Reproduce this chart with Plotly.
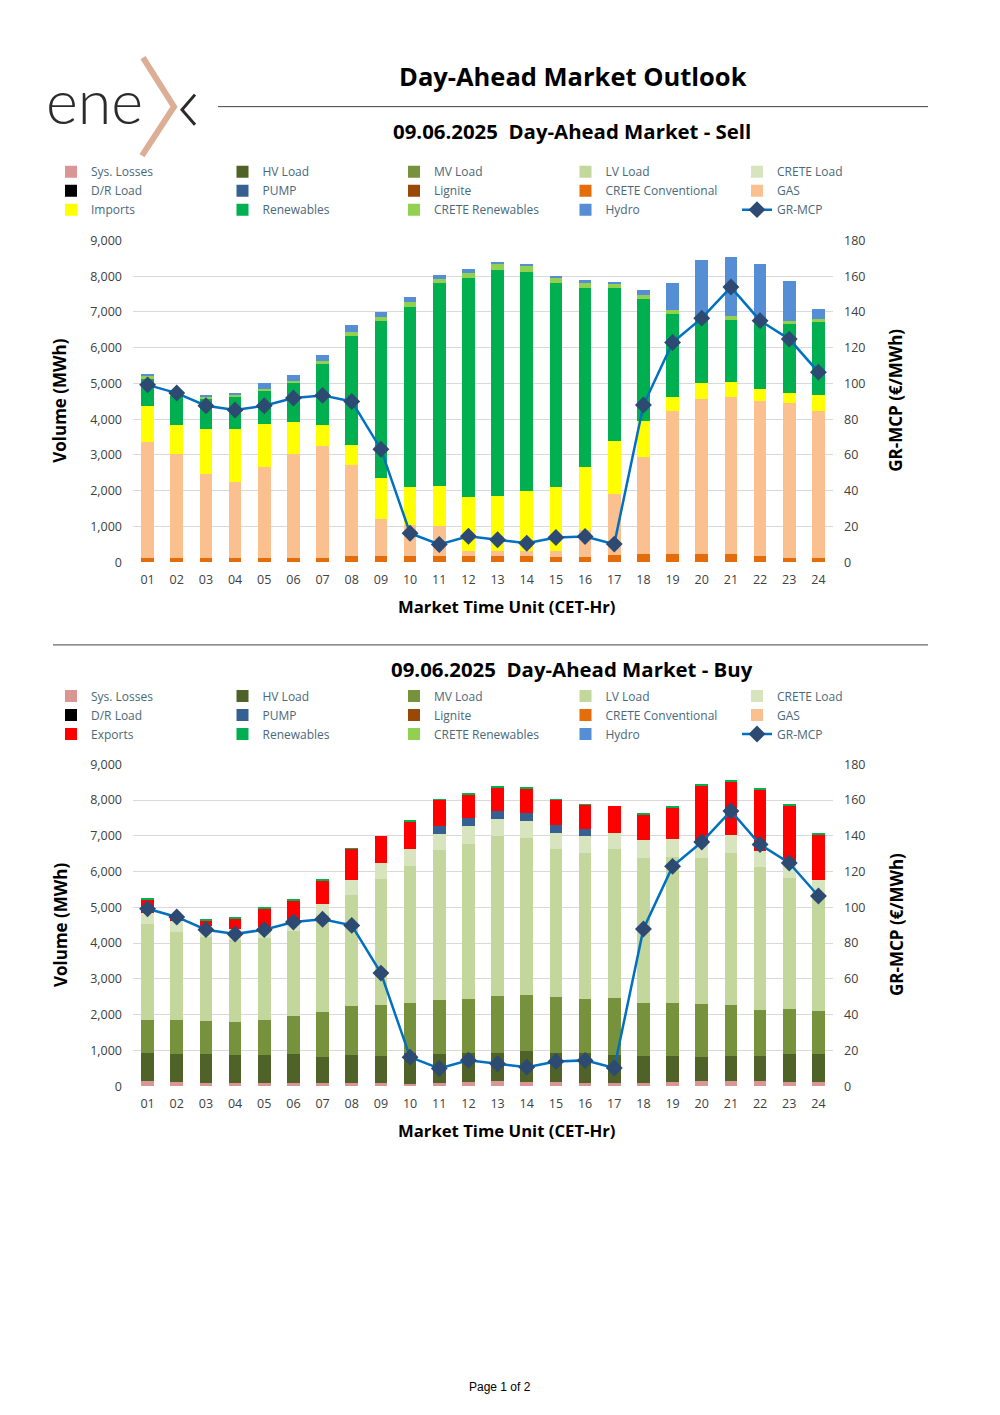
import plotly.graph_objects as go

# ---------------- data ----------------
hours = ["01", "02", "03", "04", "05", "06", "07", "08", "09", "10", "11", "12",
         "13", "14", "15", "16", "17", "18", "19", "20", "21", "22", "23", "24"]

no_volume = [0, 0, 0, 0, 0, 0, 0, 0, 0, 0, 0, 0,
             0, 0, 0, 0, 0, 0, 0, 0, 0, 0, 0, 0]

# Sell side (MWh)
sell_crete_conv = [110, 110, 110, 110, 110, 120, 130, 160, 180, 180, 160, 160,
                   170, 160, 140, 150, 190, 220, 240, 240, 230, 180, 130, 110]
sell_gas = [3240, 2920, 2370, 2140, 2560, 2910, 3125, 2565, 1015, 850, 840, 160,
            150, 160, 160, 750, 1730, 2720, 3980, 4330, 4400, 4335, 4310, 4125]
sell_imports = [1010, 810, 1240, 1480, 1200, 900, 585, 550, 1155, 1080, 1130, 1490,
                1540, 1660, 1790, 1760, 1470, 1010, 390, 455, 415, 325, 305, 440]
sell_renewables = [760, 810, 840, 880, 905, 1070, 1710, 3055, 4400, 5040, 5670, 6130,
                   6300, 6145, 5720, 5020, 4270, 3410, 2340, 1805, 1735, 1810, 1905, 2030]
sell_crete_renew = [75, 40, 60, 55, 75, 75, 75, 100, 110, 140, 130, 150,
                    170, 165, 140, 140, 130, 100, 90, 60, 95, 75, 100, 110]
sell_hydro = [65, 30, 65, 65, 155, 165, 165, 210, 130, 120, 90, 100,
              70, 60, 60, 60, 50, 150, 780, 1570, 1670, 1605, 1120, 260]

# Buy side (MWh)
buy_sys_losses = [140, 110, 100, 90, 90, 100, 100, 85, 75, 65, 100, 120,
                  130, 120, 110, 95, 85, 100, 110, 130, 140, 130, 120, 120]
buy_hv = [785, 795, 785, 785, 785, 785, 710, 785, 765, 850, 795, 795,
          810, 850, 820, 820, 785, 740, 730, 690, 690, 700, 775, 775]
buy_mv = [925, 935, 935, 925, 965, 1075, 1250, 1370, 1435, 1415, 1510, 1530,
          1580, 1575, 1550, 1530, 1595, 1490, 1480, 1475, 1435, 1295, 1250, 1195]
buy_lv = [2670, 2480, 2360, 2285, 2295, 2390, 2730, 3105, 3520, 3835, 4200, 4335,
          4480, 4405, 4150, 4085, 4160, 4060, 4090, 4095, 4265, 4010, 3665, 3210]
buy_crete_load = [310, 310, 310, 310, 305, 305, 300, 430, 455, 465, 445, 485,
                  470, 465, 460, 455, 465, 485, 490, 490, 495, 450, 420, 465]
buy_pump = [0, 0, 0, 0, 0, 0, 0, 0, 0, 0, 225, 225,
            225, 225, 225, 215, 0, 0, 0, 0, 0, 0, 0, 0]
buy_exports = [370, 65, 130, 280, 515, 540, 660, 850, 740, 750, 725, 670,
               655, 670, 685, 670, 750, 725, 890, 1530, 1480, 1705, 1605, 1265]
buy_renewables = [45, 30, 50, 50, 45, 45, 40, 15, 0, 30, 20, 30,
                  25, 30, 15, 10, 0, 10, 30, 40, 40, 40, 35, 50]

# GR-MCP (EUR/MWh)
gr_mcp = [99.2, 94.6, 87.5, 85.1, 87.5, 91.8, 93.3, 89.9, 63.2, 16.2, 9.9, 14.5,
          12.5, 10.6, 13.8, 14.4, 10.1, 87.9, 122.9, 136.5, 153.9, 135.1, 124.8, 106.3]

# ---------------- styling ----------------
COL = {
    "Sys. Losses": "#DA9694", "HV Load": "#4F6228", "MV Load": "#76923C",
    "LV Load": "#C3D69B", "CRETE Load": "#D7E4BD", "D/R Load": "#000000",
    "PUMP": "#366092", "Lignite": "#984807", "CRETE Conventional": "#E46C0A",
    "GAS": "#FAC090", "Imports": "#FFFF00", "Exports": "#FF0000",
    "Renewables": "#00B050", "CRETE Renewables": "#92D050", "Hydro": "#558ED5",
}
FONT = "Open Sans"
# page placement of the figure as it appears in the screenshot
OFF_X = 8
SY, TY = 0.9875, 17.4
FW, FH = 984, 1415


def px(x):
    return (x - OFF_X) / FW


def py(y):
    return 1 - ((y - TY) / SY) / FH


sell_series = [
    ("Sys. Losses", no_volume), ("HV Load", no_volume), ("MV Load", no_volume),
    ("LV Load", no_volume), ("CRETE Load", no_volume), ("D/R Load", no_volume),
    ("PUMP", no_volume), ("Lignite", no_volume), ("CRETE Conventional", sell_crete_conv),
    ("GAS", sell_gas), ("Imports", sell_imports), ("Renewables", sell_renewables),
    ("CRETE Renewables", sell_crete_renew), ("Hydro", sell_hydro),
]
buy_series = [
    ("Sys. Losses", buy_sys_losses), ("HV Load", buy_hv), ("MV Load", buy_mv),
    ("LV Load", buy_lv), ("CRETE Load", buy_crete_load), ("D/R Load", no_volume),
    ("PUMP", buy_pump), ("Lignite", no_volume), ("CRETE Conventional", no_volume),
    ("GAS", no_volume), ("Exports", buy_exports), ("Renewables", buy_renewables),
    ("CRETE Renewables", no_volume), ("Hydro", no_volume),
]

fig = go.Figure()

for (name, vals) in sell_series:
    fig.add_trace(go.Bar(x=hours, y=vals, name=name, marker_color=COL[name],
                         marker_line_width=0, xaxis="x", yaxis="y", legend="legend"))
fig.add_trace(go.Scatter(x=hours, y=gr_mcp, name="GR-MCP", mode="lines+markers",
                         line=dict(color="#0070C0", width=2.5),
                         marker=dict(symbol="diamond", size=13, color="#2C4A72"),
                         xaxis="x", yaxis="y2", legend="legend"))

for (name, vals) in buy_series:
    fig.add_trace(go.Bar(x=hours, y=vals, name=name, marker_color=COL[name],
                         marker_line_width=0, xaxis="x2", yaxis="y3", legend="legend2"))
fig.add_trace(go.Scatter(x=hours, y=gr_mcp, name="GR-MCP", mode="lines+markers",
                         line=dict(color="#0070C0", width=2.5),
                         marker=dict(symbol="diamond", size=13, color="#2C4A72"),
                         xaxis="x2", yaxis="y4", legend="legend2"))

tickfont = dict(family=FONT, size=12.5, color="#404040")
xdom = [px(133), px(833)]
d1 = [py(562.3), py(240.7)]
d2 = [py(1086), py(764.3)]

xcommon = dict(type="category", range=[-0.5, 23.5], domain=xdom, showgrid=False,
               showline=False, zeroline=False, tickfont=tickfont, ticks="",
               ticklabelstandoff=8, fixedrange=True)
yleft = dict(range=[0, 9000], dtick=1000, tickformat=",", showgrid=True,
             gridcolor="#D9D9D9", gridwidth=1, zeroline=False, showline=False,
             tickfont=tickfont, ticks="", ticklabelstandoff=10)
yright = dict(range=[0, 180], dtick=20, showgrid=False, zeroline=False, showline=False,
              side="right", tickfont=tickfont, ticks="", ticklabelstandoff=10)

legend_common = dict(orientation="h", xanchor="left", yanchor="top",
                     entrywidth=126.5, entrywidthmode="pixels", traceorder="normal",
                     font=dict(family=FONT, size=12, color="#4A6878"),
                     bgcolor="rgba(0,0,0,0)", borderwidth=0, itemclick=False)

fig.update_layout(
    width=FW, height=FH, margin=dict(l=0, r=0, t=0, b=0),
    paper_bgcolor="white", plot_bgcolor="white",
    barmode="stack", bargap=0.565, showlegend=True,
    xaxis=dict(**xcommon, anchor="y"),
    yaxis=dict(**yleft, domain=d1, anchor="x"),
    yaxis2=dict(**yright, overlaying="y", anchor="x"),
    xaxis2=dict(**xcommon, anchor="y3"),
    yaxis3=dict(**yleft, domain=d2, anchor="x2"),
    yaxis4=dict(**yright, overlaying="y3", anchor="x2"),
    legend=dict(**legend_common, x=px(51), y=py(157.5)),
    legend2=dict(**legend_common, x=px(51), y=py(681.5)),
)

ann = []


def text(x, y, s, size, bold=False, color="#000000", angle=0, family=FONT,
         xanchor="center", weight=None):
    f = dict(family=family, size=size, color=color)
    if weight is not None:
        f["weight"] = weight
    ann.append(dict(x=px(x), y=py(y), xref="paper", yref="paper", showarrow=False,
                    text=f"<b>{s}</b>" if bold else s, font=f, textangle=angle,
                    xanchor=xanchor, yanchor="middle"))


text(573, 76, "Day-Ahead Market Outlook", 25.5, bold=True)
text(572, 131, "09.06.2025\u00a0 Day-Ahead Market - Sell", 20.4, bold=True)
text(572, 669, "09.06.2025\u00a0 Day-Ahead Market - Buy", 20.4, bold=True)
for yc in (401, 925):
    text(60, yc, "Volume (MWh)", 17, bold=True, angle=-90)
    text(896, yc, "GR-MCP (€/MWh)", 17, bold=True, angle=-90)
text(506, 607, "Market Time Unit (CET-Hr)", 16.7, bold=True)
text(506, 1130, "Market Time Unit (CET-Hr)", 16.7, bold=True)
text(500, 1387, "Page 1 of 2", 12, family="Liberation Sans")
# logo text
text(44, 101, "ene", 61, color="#2B2B2B", family="Lato", xanchor="left", weight=300)

shapes = [
    dict(type="line", xref="paper", yref="paper", x0=px(218), x1=px(928), y0=py(107), y1=py(107),
         line=dict(color="#404040", width=1)),
    dict(type="line", xref="paper", yref="paper", x0=px(53), x1=px(928), y0=py(645), y1=py(645),
         line=dict(color="#404040", width=1)),
    dict(type="path", xref="paper", yref="paper",
         path=f"M{px(143)},{py(58)} L{px(174)},{py(107)} L{px(142)},{py(156)}",
         line=dict(color="#DBAE95", width=6)),
    dict(type="path", xref="paper", yref="paper",
         path=f"M{px(195)},{py(95)} L{px(182)},{py(110)} L{px(195)},{py(125)}",
         line=dict(color="#2B2B2B", width=3)),
]

fig.update_layout(annotations=ann, shapes=shapes)
fig.write_html("out.html")
